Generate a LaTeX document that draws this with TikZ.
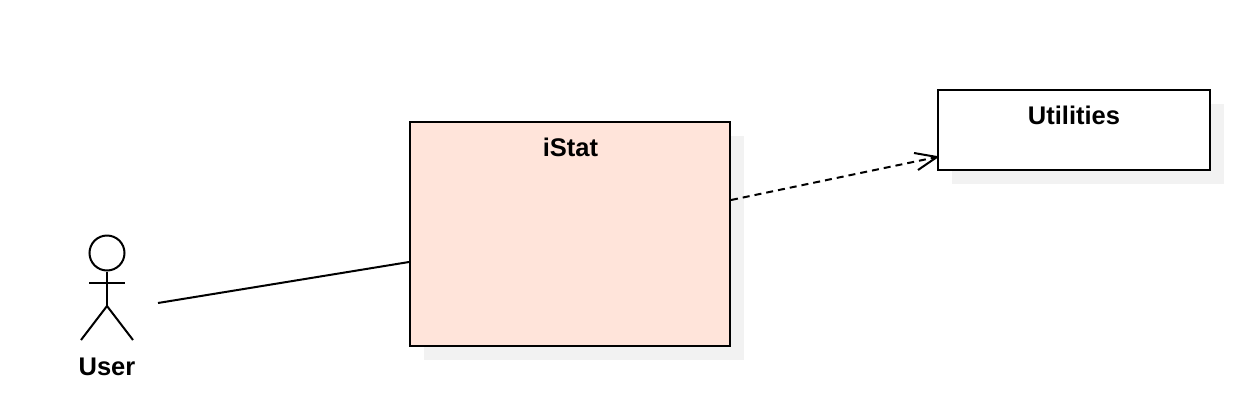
\documentclass[tikz,border=0pt]{standalone}
\usepackage{fontspec}
\setmainfont{Liberation Sans}
\usetikzlibrary{arrows,calc}
\definecolor{pkg_fill}{RGB}{255, 228, 218}
\definecolor{pkg_shadow}{RGB}{242, 242, 242}
\tikzset{x=1pt,y=-1pt}
\tikzstyle{pkg}=[draw=black,line width=2pt,inner sep=0pt,outer sep=0pt,anchor=north west]
\tikzstyle{shadow}=[fill=pkg_shadow,draw=none,inner sep=0pt,outer sep=0pt,anchor=north west]
\tikzstyle{title}=[font=\fontsize{25.5}{28}\selectfont\bfseries,inner sep=0pt]
\tikzstyle{link}=[line width=2pt]
\begin{document}
\begin{tikzpicture}
        \useasboundingbox (0, 0) rectangle (1252, 402);
        \node [style=shadow,minimum width=320pt,minimum height=224pt] (0) at (424, 136) {};
        \node [style=shadow,minimum width=272pt,minimum height=80pt] (1) at (952, 104) {};
        \node [style=pkg,fill=pkg_fill,minimum width=320pt,minimum height=224pt] (2) at (410, 122) {};
        \node [style=pkg,fill=white,minimum width=272pt,minimum height=80pt] (3) at (938, 90) {};
        \node [style=title] (4) at (570.5, 147) {iStat};
        \node [style=title] (5) at (1074, 115) {Utilities};
        \node [style=title] (6) at (107, 367) {User};
        \node [draw=black,line width=2pt,circle,inner sep=0pt,minimum width=35pt] (7) at (107, 253) {};
        \coordinate (8) at (107, 306);
        \coordinate (9) at (89, 283);
        \coordinate (10) at (125, 283);
        \coordinate (11) at (81, 340);
        \coordinate (12) at (133, 340);
        \coordinate (13) at (158, 303);
        \coordinate (14) at (409, 262);
        \coordinate (15) at (731, 200);
        \coordinate (16) at (937, 157);
        \draw [style=link] (7.south) to (8);
        \draw [style=link] (9) to (10);
        \draw [style=link] (11) to (8);
        \draw [style=link] (8) to (12);
        \draw [style=link] (13) to (14);
        \draw [style=link,dash pattern=on 7pt off 5pt] (15) to (16);
        \draw [style=link] ($(16)+(-23,-4)$) to (16);
        \draw [style=link] ($(16)+(-19,13)$) to (16);
    \end{tikzpicture}
\end{document}
